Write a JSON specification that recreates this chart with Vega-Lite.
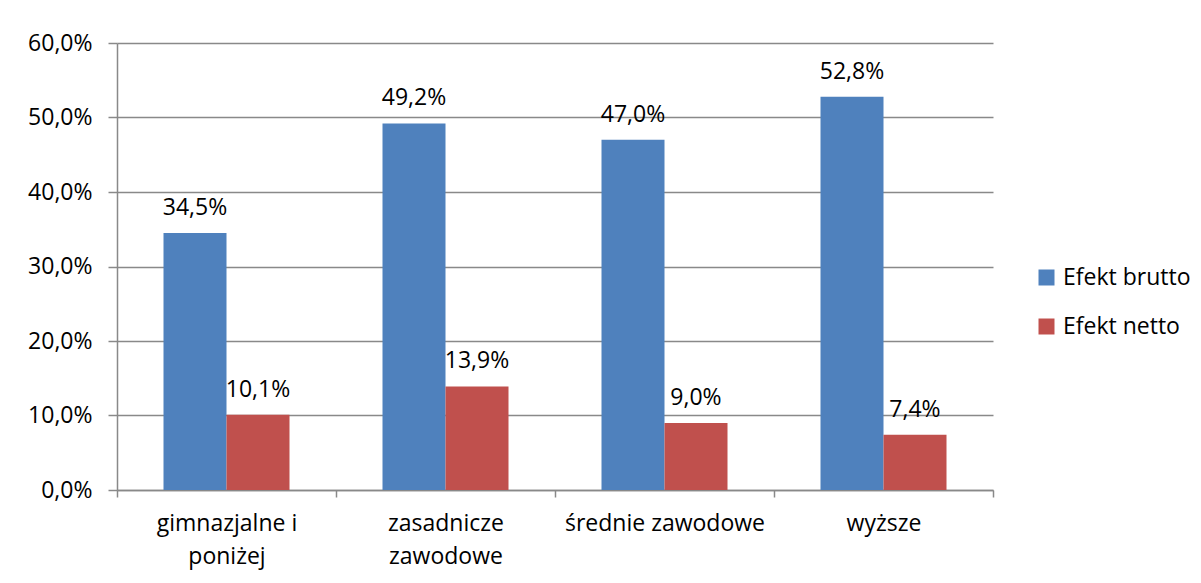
{
  "$schema": "https://vega.github.io/schema/vega-lite/v6.json",
  "width": 876,
  "height": 447,
  "autosize": {"type": "none"},
  "padding": {"left": 117, "top": 43, "right": 208, "bottom": 93},
  "background": "white",
  "data": {
    "values": [
      {"kategoria": "gimnazjalne i poniżej", "seria": "Efekt brutto", "wartosc": 0.345},
      {"kategoria": "gimnazjalne i poniżej", "seria": "Efekt netto", "wartosc": 0.101},
      {"kategoria": "zasadnicze zawodowe", "seria": "Efekt brutto", "wartosc": 0.492},
      {"kategoria": "zasadnicze zawodowe", "seria": "Efekt netto", "wartosc": 0.139},
      {"kategoria": "średnie zawodowe", "seria": "Efekt brutto", "wartosc": 0.470},
      {"kategoria": "średnie zawodowe", "seria": "Efekt netto", "wartosc": 0.090},
      {"kategoria": "wyższe", "seria": "Efekt brutto", "wartosc": 0.528},
      {"kategoria": "wyższe", "seria": "Efekt netto", "wartosc": 0.074}
    ]
  },
  "encoding": {
    "x": {
      "field": "kategoria",
      "type": "nominal",
      "sort": null,
      "scale": {"paddingInner": 0, "paddingOuter": 0},
      "axis": {
        "title": null,
        "labelAngle": 0,
        "tickBand": "extent",
        "tickSize": 7,
        "labelPadding": 15,
        "labelLineHeight": 33,
        "labelLimit": 0,
        "labelBaseline": "top",
        "labelExpr": "datum.value == 'gimnazjalne i poniżej' ? ['gimnazjalne i', 'poniżej'] : datum.value == 'zasadnicze zawodowe' ? ['zasadnicze', 'zawodowe'] : datum.value"
      }
    },
    "xOffset": {
      "field": "seria",
      "type": "nominal",
      "scale": {"paddingInner": 0, "paddingOuter": 0.738}
    },
    "y": {
      "field": "wartosc",
      "type": "quantitative",
      "scale": {"domain": [0, 0.6], "nice": false},
      "axis": {
        "title": null,
        "format": ".1%",
        "values": [0, 0.1, 0.2, 0.3, 0.4, 0.5, 0.6],
        "grid": true,
        "tickSize": 9,
        "labelPadding": 16
      }
    }
  },
  "layer": [
    {
      "mark": {"type": "bar"},
      "encoding": {
        "color": {
          "field": "seria",
          "type": "nominal",
          "scale": {"domain": ["Efekt brutto", "Efekt netto"], "range": ["#4F81BD", "#C0504D"]},
          "legend": {
            "title": null,
            "orient": "none",
            "legendX": 918,
            "legendY": 223,
            "symbolType": "square",
            "symbolSize": 256,
            "symbolStrokeWidth": 0,
            "labelOffset": 5,
            "rowPadding": 25,
            "padding": 0
          }
        }
      }
    },
    {
      "mark": {"type": "text", "baseline": "alphabetic", "dy": -18, "color": "#000000", "font": "Open Sans", "fontSize": 23},
      "encoding": {
        "text": {"field": "wartosc", "type": "quantitative", "format": ".1%"}
      }
    }
  ],
  "config": {
    "locale": {
      "number": {"decimal": ",", "thousands": " ", "grouping": [3], "currency": ["", " zł"]}
    },
    "view": {"stroke": null},
    "font": "Open Sans",
    "axis": {
      "labelFont": "Open Sans",
      "labelFontSize": 23,
      "labelColor": "#000000",
      "domainColor": "#898989",
      "tickColor": "#898989",
      "gridColor": "#898989",
      "domainWidth": 1.5,
      "tickWidth": 1.5,
      "gridWidth": 1.5
    },
    "axisX": {"grid": false},
    "legend": {
      "labelFont": "Open Sans",
      "labelFontSize": 23,
      "labelColor": "#000000"
    }
  }
}
